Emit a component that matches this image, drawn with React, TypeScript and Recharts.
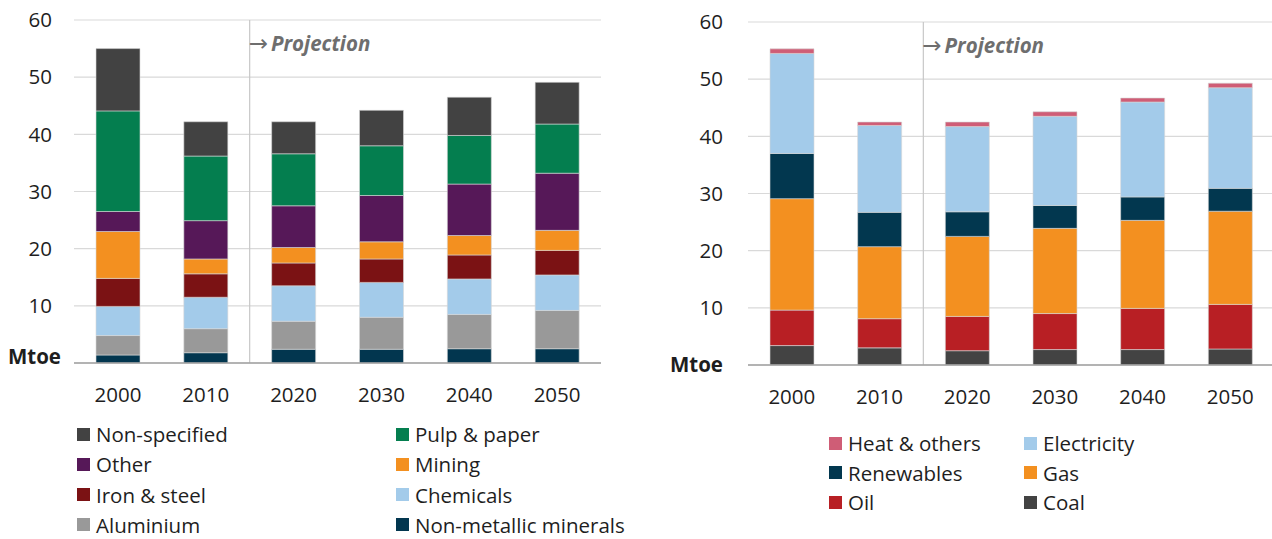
import React from "react";
import { BarChart, Bar, XAxis, YAxis, CartesianGrid, ReferenceLine } from "recharts";

const years = ["2000", "2010", "2020", "2030", "2040", "2050"];
const yTicks = [0, 10, 20, 30, 40, 50, 60];

// Left chart: by industry sub-sector (Mtoe), stacked bottom -> top
const nonMetallic = [1.4, 1.8, 2.4, 2.4, 2.5, 2.5];
const aluminium = [3.4, 4.2, 4.9, 5.6, 6.0, 6.7];
const chemicals = [5.1, 5.5, 6.2, 6.1, 6.2, 6.2];
const ironSteel = [4.9, 4.1, 4.0, 4.1, 4.2, 4.3];
const mining = [8.2, 2.6, 2.7, 3.0, 3.4, 3.5];
const other = [3.5, 6.7, 7.3, 8.1, 9.0, 10.0];
const pulpPaper = [17.6, 11.3, 9.1, 8.7, 8.5, 8.6];
const nonSpecified = [10.9, 6.0, 5.6, 6.2, 6.7, 7.3];

// Right chart: by fuel (Mtoe), stacked bottom -> top
const coal = [3.4, 3.0, 2.5, 2.7, 2.7, 2.8];
const oil = [6.2, 5.1, 6.0, 6.3, 7.2, 7.8];
const gas = [19.5, 12.6, 14.0, 14.9, 15.4, 16.3];
const renewables = [7.9, 6.0, 4.3, 4.0, 4.1, 4.0];
const electricity = [17.5, 15.2, 14.9, 15.6, 16.6, 17.6];
const heatOthers = [0.8, 0.6, 0.8, 0.8, 0.7, 0.8];

const sectorSeries = [
  { key: "Non-metallic minerals", values: nonMetallic, color: "#02364f" },
  { key: "Aluminium", values: aluminium, color: "#999999" },
  { key: "Chemicals", values: chemicals, color: "#a3cbea" },
  { key: "Iron & steel", values: ironSteel, color: "#7b1214" },
  { key: "Mining", values: mining, color: "#f39020" },
  { key: "Other", values: other, color: "#561858" },
  { key: "Pulp & paper", values: pulpPaper, color: "#047e4f" },
  { key: "Non-specified", values: nonSpecified, color: "#424242" },
];

const fuelSeries = [
  { key: "Coal", values: coal, color: "#434343" },
  { key: "Oil", values: oil, color: "#b81f24" },
  { key: "Gas", values: gas, color: "#f39020" },
  { key: "Renewables", values: renewables, color: "#02374f" },
  { key: "Electricity", values: electricity, color: "#a3cbea" },
  { key: "Heat & others", values: heatOthers, color: "#cf5d76" },
];

type Series = { key: string; values: number[]; color: string };

function toRows(series: Series[]) {
  return years.map((year, i) => {
    const row: Record<string, string | number> = { year };
    series.forEach((s) => (row[s.key] = s.values[i]));
    return row;
  });
}

const FONT = "'Open Sans', 'Noto Sans', sans-serif";
const TEXT = "#1e1e1e";
const AXIS_FS = 20.5;

function makeYTick(mtoeDx: number, mtoeDy: number) {
  return function YTick(props: any) {
    const { x, y, payload } = props;
    if (payload.value === 0) {
      return (
        <text x={x + mtoeDx} y={y + mtoeDy} dy="0.35em" textAnchor="end" fontSize={AXIS_FS}
          fontWeight="bold" fill={TEXT} fontFamily={FONT}>
          Mtoe
        </text>
      );
    }
    return (
      <text x={x} y={y} dy="0.35em" textAnchor="end" fontSize={AXIS_FS} fill={TEXT} fontFamily={FONT}>
        {payload.value}
      </text>
    );
  };
}

function ProjectionLabel(props: any) {
  const { viewBox } = props;
  const x = viewBox.x;
  const y = viewBox.y;
  return (
    <text x={x - 1} y={y + 31} fontSize={20.5} fill="#6e6e6e" fontFamily={FONT}>
      <tspan fontFamily="'DejaVu Sans', sans-serif" fontSize={23} fontWeight="normal">→</tspan>
      <tspan dx={3} fontWeight="bold" fontStyle="italic">Projection</tspan>
    </text>
  );
}

function StackChart({ series, yWidth, tickMargin, mtoeDx, mtoeDy, top, width }: {
  series: Series[]; yWidth: number; tickMargin: number; mtoeDx: number; mtoeDy: number; top: number; width: number;
}) {
  const data = toRows(series);
  const height = 420;
  return (
    <BarChart width={width} height={height} data={data} barSize={44}
      margin={{ top, right: 0, bottom: 0, left: 0 }} barCategoryGap={0}>
      <CartesianGrid vertical={false} stroke="#d9d9d9" strokeWidth={1.2} />
      <XAxis dataKey="year" tickLine={false} axisLine={{ stroke: "#a0a0a0", strokeWidth: 1.5 }}
        height={height - top - 343} tickMargin={18} interval={0}
        tick={{ fontSize: AXIS_FS, fill: TEXT, fontFamily: FONT }} />
      <YAxis domain={[0, 60]} ticks={yTicks} width={yWidth} tickLine={false} axisLine={false}
        tickMargin={tickMargin} interval={0} tick={makeYTick(mtoeDx, mtoeDy)} />
      <ReferenceLine x="2020" position="start" stroke="#c8c8c8" strokeWidth={1.2}
        label={<ProjectionLabel />} />
      {series.map((s) => (
        <Bar key={s.key} dataKey={s.key} stackId="a" fill={s.color} stroke="#d6d6d6"
          strokeWidth={0.6} isAnimationActive={false} />
      ))}
    </BarChart>
  );
}

function Legend({ series, left, top, colGap, rowGap, swatch }: {
  series: Series[]; left: number; top: number; colGap: number; rowGap: number; swatch: number;
}) {
  const items = [...series].reverse();
  return (
    <div style={{ position: "absolute", left, top, fontFamily: FONT, fontSize: 20.5, color: TEXT }}>
      {items.map((s, i) => (
        <div key={s.key} style={{
          position: "absolute", left: (i % 2) * colGap, top: Math.floor(i / 2) * rowGap,
          display: "flex", alignItems: "center", whiteSpace: "nowrap", height: 26,
        }}>
          <span style={{ width: swatch, height: swatch, background: s.color, display: "inline-block", marginRight: 6 }} />
          <span>{s.key}</span>
        </div>
      ))}
    </div>
  );
}

export default function App() {
  return (
    <div style={{ position: "absolute", left: 0, top: 0, width: 1272, height: 539, background: "#fff", overflow: "hidden" }}>
      <div style={{ position: "absolute", left: 0, top: 0 }}>
        <StackChart series={sectorSeries} yWidth={74} tickMargin={16} mtoeDx={9} mtoeDy={-6} top={20} width={601} />
      </div>
      <div style={{ position: "absolute", left: 640, top: 0 }}>
        <StackChart series={fuelSeries} yWidth={108} tickMargin={19} mtoeDx={0} mtoeDy={0} top={22} width={634} />
      </div>
      <Legend series={sectorSeries} left={77} top={421} colGap={319} rowGap={30.3} swatch={13} />
      <Legend series={fuelSeries} left={829} top={430} colGap={195} rowGap={29.5} swatch={13} />
    </div>
  );
}
